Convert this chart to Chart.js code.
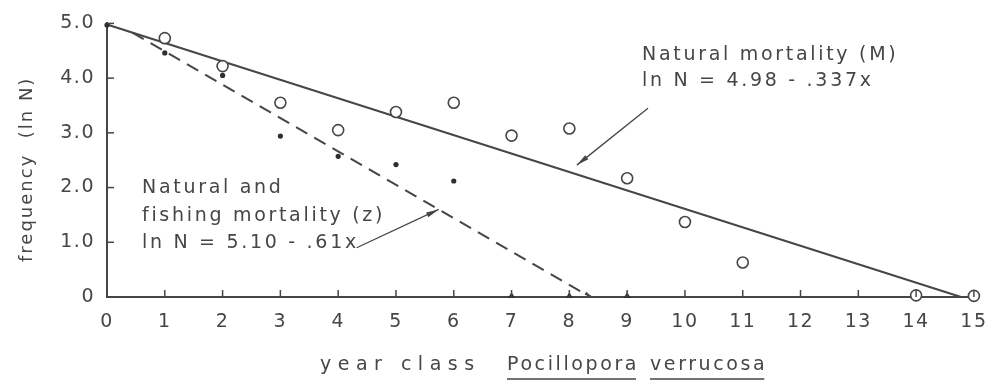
<!DOCTYPE html>
<html>
<head>
<meta charset="utf-8">
<script src="https://cdn.jsdelivr.net/npm/chart.js@4.4.1/dist/chart.umd.min.js"></script>
<style>
  html, body { margin: 0; padding: 0; background: #fff; }
  #wrap { width: 1000px; height: 381px; position: relative; }
</style>
</head>
<body>
<div id="wrap"><canvas id="grafico"></canvas></div>
<script>
// year classes and ln N values
const yearsM = [1, 2, 3, 4, 5, 6, 7, 8, 9, 10, 11, 14, 15]
const lnM = [4.73, 4.22, 3.55, 3.05, 3.38, 3.55, 2.95, 3.08, 2.17, 1.37, 0.63, 0.03, 0.02]

const yearsZ = [0, 1, 2, 3, 4, 5, 6, 7, 8, 9]
const lnZ = [4.97, 4.46, 4.05, 2.94, 2.57, 2.42, 2.12, 0.02, 0.02, 0.02]

// regression lines: ln N = a - b x
const fitM = [4.98, 0.337]
const fitZ = [5.10, 0.61]

const xTicks = [0, 1, 2, 3, 4, 5, 6, 7, 8, 9, 10, 11, 12, 13, 14, 15]
const yTicks = [0, 1, 2, 3, 4, 5]

const INK = '#464646'
const FONT = '"DejaVu Sans", sans-serif'

// puntos de los datasets
let puntosM = [], puntosZ = []
for (let i = 0; i < yearsM.length; i++) puntosM.push({ x: yearsM[i], y: lnM[i] })
for (let i = 0; i < yearsZ.length; i++) puntosZ.push({ x: yearsZ[i], y: lnZ[i] })

// rectas: M desde x=0 hasta el corte; Z desde donde cruza M hasta el corte
let lineaM = [{ x: 0, y: fitM[0] }, { x: fitM[0] / fitM[1], y: 0 }]
let xCruce = (fitZ[0] - fitM[0]) / (fitZ[1] - fitM[1])
let lineaZ = [{ x: xCruce, y: fitZ[0] - fitZ[1] * xCruce }, { x: fitZ[0] / fitZ[1], y: 0 }]

function flecha(ctx, x1, y1, x2, y2, largo) {
    ctx.beginPath()
    ctx.moveTo(x1, y1)
    ctx.lineTo(x2, y2)
    ctx.stroke()
    let ang = Math.atan2(y2 - y1, x2 - x1)
    ctx.beginPath()
    ctx.moveTo(x2, y2)
    ctx.lineTo(x2 - largo * Math.cos(ang - 0.2), y2 - largo * Math.sin(ang - 0.2))
    ctx.lineTo(x2 - largo * Math.cos(ang + 0.2), y2 - largo * Math.sin(ang + 0.2))
    ctx.closePath()
    ctx.fill()
}

const extras = {
    id: 'extras',
    beforeDraw(chart) {
        // espaciado de letras para las etiquetas de los ejes
        chart.ctx.letterSpacing = '1.5px'
    },
    afterDraw(chart) {
        const ctx = chart.ctx
        const xs = chart.scales.x, ys = chart.scales.y
        const area = chart.chartArea
        ctx.save()
        ctx.strokeStyle = INK
        ctx.fillStyle = INK
        ctx.lineWidth = 1.5

        // ticks hacia dentro
        xTicks.forEach(function (v) {
            let px = xs.getPixelForValue(v)
            ctx.beginPath(); ctx.moveTo(px, area.bottom); ctx.lineTo(px, area.bottom - 7); ctx.stroke()
        })
        yTicks.forEach(function (v) {
            let py = ys.getPixelForValue(v)
            ctx.beginPath(); ctx.moveTo(area.left, py); ctx.lineTo(area.left + 7, py); ctx.stroke()
        })

        // flechas de las anotaciones
        ctx.lineWidth = 1.3
        flecha(ctx, xs.getPixelForValue(9.36), ys.getPixelForValue(3.45), xs.getPixelForValue(8.13), ys.getPixelForValue(2.41), 13)
        flecha(ctx, xs.getPixelForValue(4.32), ys.getPixelForValue(0.90), xs.getPixelForValue(5.74), ys.getPixelForValue(1.60), 13)
        // punta al final de la recta discontinua
        let zEnd = lineaZ[1]
        flecha(ctx, xs.getPixelForValue(zEnd.x) - 4, ys.getPixelForValue(0.06), xs.getPixelForValue(zEnd.x) + 2, ys.getPixelForValue(0.0), 8)

        // textos
        ctx.font = '19px ' + FONT
        ctx.letterSpacing = '2.7px'
        ctx.textBaseline = 'middle'
        ctx.textAlign = 'left'
        ctx.fillText('Natural mortality (M)', 642, 55)
        ctx.fillText('ln N = 4.98 - .337x', 642, 81)
        ctx.fillText('Natural and', 142, 188)
        ctx.fillText('fishing mortality (z)', 142, 216)
        ctx.fillText('ln N = 5.10 - .61x', 142, 243)

        // titulo eje x con subrayado
        let yT = 365
        ctx.letterSpacing = '6.5px'
        ctx.fillText('year class', 320, yT)
        ctx.letterSpacing = '2.6px'
        let w2 = ctx.measureText('Pocillopora').width
        ctx.fillText('Pocillopora', 507, yT)
        let w3 = ctx.measureText('verrucosa').width
        ctx.fillText('verrucosa', 650, yT)
        ctx.lineWidth = 1.3
        ctx.beginPath()
        ctx.moveTo(507, yT + 14); ctx.lineTo(507 + w2 - 3, yT + 14)
        ctx.moveTo(650, yT + 14); ctx.lineTo(650 + w3 - 3, yT + 14)
        ctx.stroke()

        // titulo eje y
        ctx.font = '18px ' + FONT
        ctx.letterSpacing = '2px'
        ctx.translate(27, 262)
        ctx.rotate(-Math.PI / 2)
        ctx.textAlign = 'left'
        ctx.fillText('frequency  (ln N)', 0, 0)
        ctx.restore()
        ctx.letterSpacing = '0px'
    }
}

new Chart(document.getElementById('grafico'), {
    type: 'scatter',
    data: {
        datasets: [{
            label: 'M',
            data: puntosM,
            pointStyle: 'circle',
            pointRadius: 5.5,
            pointBackgroundColor: '#fff',
            pointBorderColor: INK,
            pointBorderWidth: 1.6,
            clip: false
        }, {
            label: 'Z',
            data: puntosZ,
            // los puntos sobre el eje se ven como triangulitos
            pointStyle: lnZ.map(function (v) { return v < 0.1 ? 'triangle' : 'circle' }),
            pointRadius: lnZ.map(function (v) { return v < 0.1 ? 4 : 2.6 }),
            pointBackgroundColor: '#2e2e2e',
            pointBorderColor: '#2e2e2e',
            pointBorderWidth: 0,
            clip: false
        }, {
            label: 'fit M',
            data: lineaM,
            showLine: true,
            pointRadius: 0,
            borderColor: INK,
            borderWidth: 2,
            clip: false
        }, {
            label: 'fit Z',
            data: lineaZ,
            showLine: true,
            pointRadius: 0,
            borderColor: INK,
            borderWidth: 2,
            borderDash: [13, 8],
            clip: false
        }]
    },
    plugins: [extras],
    options: {
        responsive: true,
        maintainAspectRatio: false,
        animation: false,
        events: [],
        layout: { padding: { left: 0, right: 14, top: 19, bottom: 0 } },
        plugins: { legend: { display: false }, tooltip: { enabled: false } },
        scales: {
            x: {
                type: 'linear',
                min: 0, max: 15,
                afterFit: function (s) { s.height = 84 },
                afterBuildTicks: function (s) { s.ticks = xTicks.map(function (v) { return { value: v } }) },
                grid: { display: false, drawTicks: false },
                border: { display: true, color: INK, width: 2 },
                ticks: { color: INK, padding: 14, font: { family: FONT, size: 19 }, maxRotation: 0 }
            },
            y: {
                type: 'linear',
                min: 0, max: 5,
                afterFit: function (s) { s.width = 107 },
                afterBuildTicks: function (s) { s.ticks = yTicks.map(function (v) { return { value: v } }) },
                grid: { display: false, drawTicks: false },
                border: { display: true, color: INK, width: 2 },
                ticks: {
                    color: INK, padding: 12, font: { family: FONT, size: 19 },
                    callback: function (v) { return v === 0 ? '0' : v.toFixed(1) }
                }
            }
        }
    }
})
</script>
</body>
</html>
